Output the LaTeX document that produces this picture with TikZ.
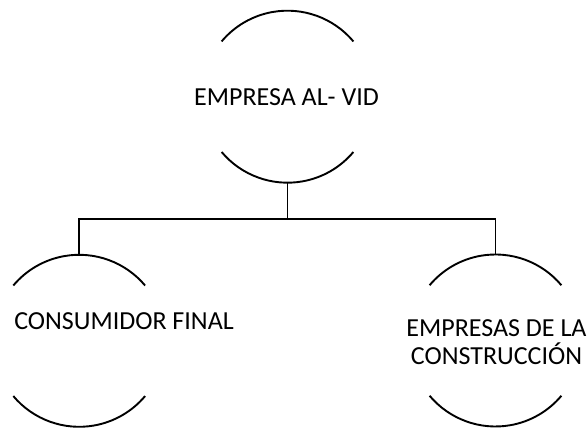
\documentclass[tikz,border=0pt]{standalone}
\usepackage{fontspec}
\setmainfont{Carlito}
\usetikzlibrary{calc, positioning}

\begin{document}
\begin{tikzpicture}[x=1pt, y=1pt, line width=1.9pt,
   bubble/.style = {circle, minimum size=172pt, inner sep=0pt, outer sep=0pt},
   lbl/.style = {inner sep=0pt, font=\fontsize{26}{28.5}\selectfont}]
   \useasboundingbox (0,0) rectangle (587,428);

   \node[bubble] (alvid)        at (287.5,331.3) {};
   \node[bubble] (consumidor)   at (79.2,87.2)   {};
   \node[bubble] (construccion) at (495.5,87.5)  {};

   \node[lbl] (alvidlbl) at (286.5,331) {EMPRESA AL- VID};
   \node[lbl, anchor=west] (consumidorlbl) at (13.3,107) {CONSUMIDOR FINAL};
   \node[lbl, align=center] (construccionlbl) at (496.5,85.7) {EMPRESAS DE LA\\CONSTRUCCIÓN};

   % open circles
   \foreach \n in {alvid, consumidor, construccion} {
     \draw (\n.40) arc[start angle=40, end angle=140, radius=86pt];
     \draw (\n.220) arc[start angle=220, end angle=320, radius=86pt];
   }
   %
   \coordinate (hub) at (287.5,208.7);
   \draw (alvid.south) -- (hub);
   \draw (consumidor.north) |- (hub) -| (construccion.north);
\end{tikzpicture}
\end{document}
